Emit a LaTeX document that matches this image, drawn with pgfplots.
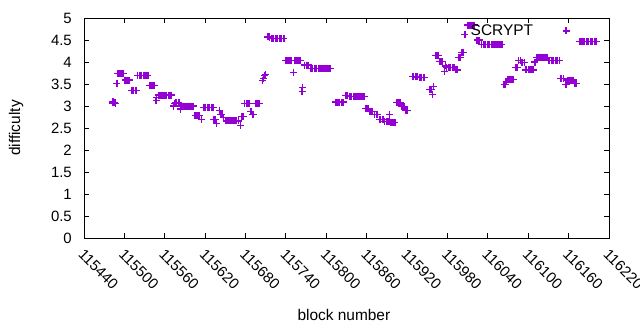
\documentclass[border=0pt]{standalone}
\usepackage{fontspec}
\setmainfont{Liberation Sans}
\usepackage{pgfplots}
\usepackage{pgfplotstable}
\pgfplotsset{compat=1.18}
\definecolor{scr}{RGB}{148,0,211}
\pgfplotstableread{
x y
115482 3.07
115483 3.10
115484 3.07
115486 3.08
115487 3.06
115489 3.52
115490 3.74
115492 3.74
115494 3.74
115496 3.74
115498 3.74
115499 3.74
115501 3.59
115503 3.59
115505 3.59
115507 3.59
115508 3.59
115510 3.36
115512 3.36
115514 3.36
115516 3.36
115518 3.36
115520 3.70
115522 3.70
115524 3.70
115526 3.70
115528 3.70
115530 3.70
115532 3.70
115534 3.70
115535 3.70
115537 3.47
115539 3.47
115541 3.47
115543 3.47
115544 3.47
115547 3.12
115548 3.20
115551 3.25
115553 3.25
115555 3.25
115557 3.25
115559 3.25
115561 3.25
115563 3.25
115565 3.25
115567 3.25
115569 3.25
115570 3.25
115573 3.00
115575 3.05
115576 3.08
115578 3.08
115580 3.08
115581 3.08
115583 2.93
115584 3.00
115586 3.00
115588 3.00
115590 3.00
115592 3.00
115594 3.00
115596 3.00
115598 3.00
115600 3.00
115602 3.00
115605 2.78
115607 2.78
115609 2.78
115611 2.78
115614 2.70
115617 2.97
115619 2.97
115621 2.97
115623 2.97
115625 2.97
115627 2.97
115629 2.97
115631 2.97
115632 2.97
115633 2.70
115635 2.70
115637 2.61
115641 2.89
115643 2.81
115645 2.81
115647 2.74
115651 2.66
115653 2.66
115655 2.66
115657 2.66
115659 2.66
115661 2.66
115663 2.66
115665 2.66
115667 2.66
115669 2.66
115670 2.66
115672 2.55
115674 2.76
115676 2.76
115677 2.76
115679 3.05
115681 3.05
115683 3.05
115685 3.05
115688 2.87
115690 2.80
115692 2.80
115695 3.05
115697 3.05
115699 3.05
115701 3.05
115705 3.58
115707 3.62
115708 3.70
115710 3.72
115713 4.57
115715 4.58
115716 4.56
115718 4.53
115720 4.53
115722 4.53
115724 4.53
115726 4.53
115728 4.53
115730 4.53
115732 4.53
115734 4.53
115736 4.53
115737 4.53
115740 4.03
115742 4.03
115744 4.03
115746 4.03
115748 4.03
115751 3.77
115753 4.03
115755 4.03
115757 4.03
115759 4.03
115761 4.03
115764 3.33
115765 3.42
115768 3.93
115770 3.93
115772 3.93
115774 3.93
115776 3.86
115778 3.86
115780 3.86
115782 3.86
115784 3.86
115786 3.86
115788 3.86
115790 3.86
115792 3.86
115794 3.86
115796 3.86
115798 3.86
115800 3.86
115802 3.86
115804 3.86
115806 3.86
115814 3.09
115816 3.09
115818 3.09
115820 3.09
115822 3.09
115824 3.09
115826 3.09
115828 3.23
115830 3.23
115832 3.23
115834 3.22
115836 3.22
115838 3.22
115840 3.22
115842 3.22
115844 3.22
115846 3.22
115848 3.22
115850 3.22
115852 3.22
115854 3.22
115856 3.22
115858 2.95
115860 2.95
115862 2.95
115865 2.87
115867 2.87
115869 2.87
115872 2.80
115874 2.80
115876 2.80
115879 2.70
115881 2.70
115883 2.70
115885 2.70
115887 2.64
115889 2.64
115891 2.64
115893 2.64
115894 2.81
115896 2.62
115898 2.62
115900 2.62
115902 2.62
115905 3.08
115907 3.08
115909 3.08
115910 3.08
115912 2.98
115914 2.98
115916 2.98
115918 2.90
115920 2.90
115921 2.90
115928 3.67
115930 3.67
115932 3.67
115934 3.67
115936 3.66
115938 3.65
115940 3.64
115942 3.64
115944 3.64
115946 3.64
115953 3.38
115955 3.38
115956 3.38
115958 3.27
115959 3.45
115962 4.14
115964 4.14
115966 4.14
115968 4.01
115970 4.01
115972 4.01
115975 3.78
115977 3.91
115979 3.87
115981 3.87
115983 3.87
115985 3.87
115987 3.87
115989 3.87
115990 3.87
115992 3.82
115994 3.82
115995 3.82
115997 4.10
115999 4.10
116001 4.22
116003 4.22
116004 4.22
116006 4.63
116010 4.84
116012 4.84
116014 4.84
116016 4.84
116018 4.84
116020 4.84
116024 4.50
116026 4.50
116027 4.50
116031 4.39
116033 4.39
116035 4.39
116037 4.39
116039 4.39
116041 4.39
116043 4.39
116045 4.39
116047 4.39
116049 4.39
116051 4.39
116053 4.39
116055 4.39
116057 4.39
116059 4.39
116061 4.39
116064 3.48
116066 3.48
116067 3.55
116070 3.60
116072 3.60
116074 3.60
116076 3.60
116078 3.60
116081 3.88
116083 3.88
116084 3.88
116086 4.03
116088 4.03
116090 3.98
116092 3.98
116094 3.98
116096 3.82
116098 3.82
116100 3.82
116102 3.82
116104 3.82
116106 3.82
116108 3.82
116110 4.00
116112 4.11
116114 4.11
116116 4.11
116118 4.11
116120 4.11
116122 4.11
116124 4.11
116126 4.11
116128 4.11
116130 4.03
116132 4.03
116134 4.03
116136 4.03
116138 4.03
116140 4.03
116142 4.03
116144 4.03
116146 4.03
116148 3.63
116150 3.63
116152 3.63
116155 3.48
116157 3.48
116159 3.59
116161 3.59
116163 3.59
116165 3.59
116167 3.59
116169 3.52
116171 3.52
116172 3.52
116176 4.46
116178 4.46
116180 4.46
116182 4.46
116184 4.46
116186 4.46
116188 4.46
116190 4.46
116192 4.46
116194 4.46
116196 4.46
116198 4.46
116200 4.46
116201 4.46
}\data
\begin{document}
\begin{tikzpicture}
\useasboundingbox (0,0) rectangle (640bp,330bp);
\begin{axis}[
  at={(84bp,92bp)}, anchor=south west,
  scale only axis, width=525bp, height=220bp,
  xmin=115440, xmax=116220, ymin=0, ymax=5,
  xtick={115440,115500,115560,115620,115680,115740,115800,115860,115920,115980,116040,116100,116160,116220},
  xticklabels={115440,115500,115560,115620,115680,115740,115800,115860,115920,115980,116040,116100,116160,116220},
  ytick={0,0.5,1,1.5,2,2.5,3,3.5,4,4.5,5},
  yticklabels={0,0.5,1,1.5,2,2.5,3,3.5,4,4.5,5},
  scaled x ticks=false,
  tick align=inside,
  major tick length=5bp,
  axis line style={line width=0.9bp},
  every tick/.style={black, line width=0.9bp},
  tick label style={font=\fontsize{15}{17}\selectfont},
  xticklabel style={yshift=-10bp, xshift=1bp, rotate=-45, anchor=north west, inner sep=0pt},
  yticklabel style={anchor=east, inner sep=0pt, xshift=-12bp},
  xlabel={block number}, ylabel={difficulty},
  label style={font=\fontsize{15.5}{18}\selectfont},
  x label style={at={(axis description cs:0.495,-0.35)}, anchor=center},
  y label style={at={(axis description cs:-0.1295,0.5)}, anchor=center},
  legend plot pos=right,
  legend cell align=right,
  legend image code/.code={\path[draw=none] (-31bp,0bp) -- (0bp,0bp); \draw[#1] plot coordinates {(0bp,0bp)};},
  legend style={draw=none, fill=none, inner sep=0pt, font=\fontsize{15.5}{18}\selectfont,
    at={(axis description cs:0.9253,0.941)}, anchor=east},
]
\addplot[only marks, mark=+, color=scr, mark size=3.5bp, mark options={line width=1.2bp}] table[x=x,y=y] {\data};
\addlegendentry{SCRYPT}
\end{axis}
\end{tikzpicture}
\end{document}
